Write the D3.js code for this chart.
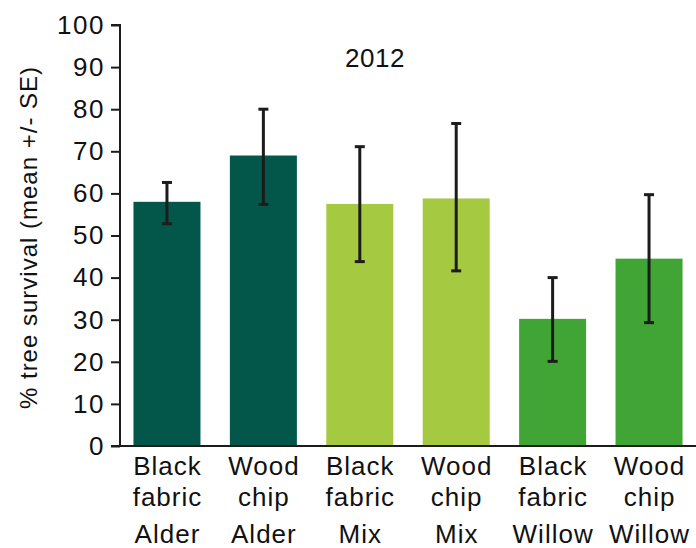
<!DOCTYPE html>
<html>
<head>
<meta charset="utf-8">
<script src="https://cdn.jsdelivr.net/npm/d3@7"></script>
<style>
  html, body { margin: 0; padding: 0; background: #fff; }
  svg { display: block; font-family: "Liberation Sans", Arial, sans-serif; }
</style>
</head>
<body>
<svg id="chart" width="696" height="548"></svg>
<script>
// Treatments (mulch type + tree mix), shown as three-line labels
const categories = [
  ["Black", "fabric", "Alder"],
  ["Wood", "chip", "Alder"],
  ["Black", "fabric", "Mix"],
  ["Wood", "chip", "Mix"],
  ["Black", "fabric", "Willow"],
  ["Wood", "chip", "Willow"]
];
const meanSurvival = [58.0, 69.0, 57.5, 58.8, 30.2, 44.5];
const seLow  = [5.2, 11.6, 13.7, 17.2, 10.1, 15.2];
const seHigh = [4.6, 11.0, 13.6, 17.8, 9.8, 15.2];
const yTicks = [0, 10, 20, 30, 40, 50, 60, 70, 80, 90, 100];
const barColors = ["#02574a", "#02574a", "#a6c942", "#a6c942", "#41a535", "#41a535"];
const chartTitle = "2012";
const yLabel = "% tree survival (mean +/- SE)";

const svg = d3.select("#chart");
const margin = { left: 120, right: 0, top: 25, bottom: 102 };
const W = 696, H = 548;
const FONT = "'Liberation Sans', Arial, sans-serif";

const ids = d3.range(categories.length);
const x = d3.scaleBand()
  .domain(ids)
  .range([119, 697])
  .paddingInner(0.305)
  .paddingOuter(0.15);

const y = d3.scaleLinear()
  .domain([0, 100])
  .range([H - margin.bottom, margin.top]);

// bars
svg.append("g")
  .selectAll("rect")
  .data(ids)
  .join("rect")
  .attr("x", i => x(i))
  .attr("width", x.bandwidth())
  .attr("y", i => y(meanSurvival[i]))
  .attr("height", i => y(0) - y(meanSurvival[i]))
  .attr("fill", i => barColors[i]);

// error bars
const eb = svg.append("g")
  .attr("stroke", "#1c1c1c")
  .attr("stroke-width", 3);
ids.forEach(i => {
  const cx = x(i) + x.bandwidth() / 2;
  const lo = y(meanSurvival[i] - seLow[i]);
  const hi = y(meanSurvival[i] + seHigh[i]);
  eb.append("line").attr("x1", cx).attr("x2", cx).attr("y1", lo).attr("y2", hi);
  eb.append("line").attr("x1", cx - 5).attr("x2", cx + 5).attr("y1", lo).attr("y2", lo);
  eb.append("line").attr("x1", cx - 5).attr("x2", cx + 5).attr("y1", hi).attr("y2", hi);
});

// y axis
const yAxis = svg.append("g")
  .attr("transform", `translate(${margin.left},0)`)
  .call(d3.axisLeft(y).tickValues(yTicks).tickSize(9).tickPadding(6));
yAxis.select(".domain").attr("stroke", "#1c1c1c").attr("stroke-width", 2).attr("d", `M-9,${y(100)}H0V${y(0)}`);
yAxis.selectAll(".tick line").attr("stroke", "#1c1c1c").attr("stroke-width", 2);
yAxis.selectAll(".tick text")
  .attr("fill", "#111")
  .style("font-size", "26px")
  .style("letter-spacing", "1.5px")
  .style("font-family", FONT);

// x axis baseline
svg.append("line")
  .attr("x1", margin.left - 9).attr("x2", W)
  .attr("y1", y(0)).attr("y2", y(0))
  .attr("stroke", "#1c1c1c").attr("stroke-width", 2);

// category labels
const lineY = [475, 506, 543];
const lab = svg.append("g")
  .attr("fill", "#111")
  .attr("text-anchor", "middle")
  .style("font-size", "26px")
  .style("letter-spacing", "1px");
ids.forEach(i => {
  const cx = x(i) + x.bandwidth() / 2 + 0.5;
  categories[i].forEach((t, k) => {
    lab.append("text").attr("x", cx).attr("y", lineY[k]).text(t);
  });
});

// title
svg.append("text")
  .attr("x", 375).attr("y", 67)
  .attr("text-anchor", "middle")
  .attr("fill", "#111")
  .style("font-size", "26px")
  .style("letter-spacing", "0.5px")
  .text(chartTitle);

// y axis label
svg.append("text")
  .attr("transform", `translate(37, ${y(50) + 2}) rotate(-90)`)
  .attr("text-anchor", "middle")
  .attr("fill", "#111")
  .style("font-size", "24px")
  .style("letter-spacing", "1px")
  .text(yLabel);
</script>
</body>
</html>
